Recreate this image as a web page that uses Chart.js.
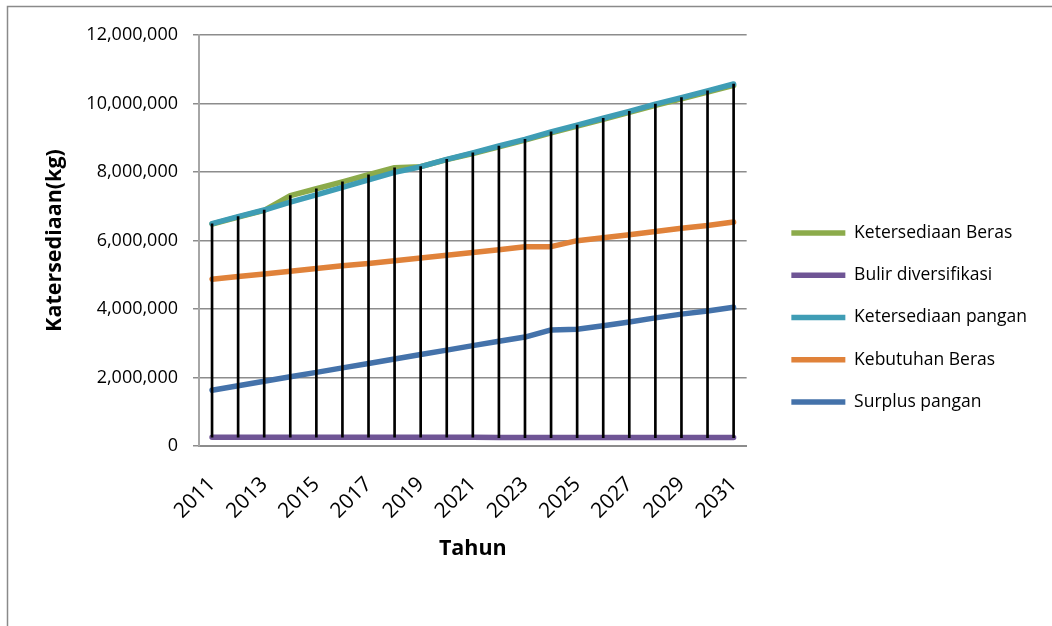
<!DOCTYPE html>
<html>
<head>
<meta charset="utf-8">
<script src="https://cdn.jsdelivr.net/npm/chart.js@4"></script>
<style>
  html, body { margin: 0; padding: 0; background: #fff; }
  #wrap { width: 1052px; height: 626px; }
</style>
</head>
<body>
<div id="wrap"><canvas id="stok-chart"></canvas></div>
<script>
const tahun = ['2011', '2012', '2013', '2014', '2015', '2016', '2017', '2018', '2019', '2020',
  '2021', '2022', '2023', '2024', '2025', '2026', '2027', '2028', '2029', '2030', '2031'];

const ketersediaanBeras = [6480000, 6685000, 6880000, 7310000, 7510000, 7710000, 7920000, 8125000,
  8155000, 8360000, 8540000, 8735000, 8930000, 9140000, 9340000, 9540000, 9740000, 9945000,
  10135000, 10335000, 10530000];
const bulirDiversifikasi = [255000, 255000, 255000, 255000, 255000, 255000, 255000, 255000,
  255000, 255000, 255000, 245000, 245000, 245000, 245000, 245000, 245000, 245000, 245000,
  245000, 245000];
const ketersediaanPangan = [6490000, 6695000, 6890000, 7120000, 7330000, 7550000, 7770000, 7990000,
  8155000, 8370000, 8560000, 8760000, 8955000, 9170000, 9370000, 9570000, 9770000, 9980000,
  10170000, 10370000, 10570000];
const kebutuhanBeras = [4870000, 4950000, 5020000, 5100000, 5180000, 5260000, 5330000, 5410000,
  5490000, 5570000, 5650000, 5730000, 5820000, 5820000, 5995000, 6080000, 6170000, 6260000,
  6360000, 6440000, 6540000];
const surplusPangan = [1630000, 1760000, 1890000, 2020000, 2150000, 2280000, 2410000, 2540000,
  2670000, 2800000, 2930000, 3060000, 3180000, 3390000, 3410000, 3510000, 3620000, 3740000,
  3850000, 3940000, 4050000];

const yTicks = [0, 2000000, 4000000, 6000000, 8000000, 10000000, 12000000];

const semuaSeri = [ketersediaanBeras, bulirDiversifikasi, ketersediaanPangan, kebutuhanBeras, surplusPangan];

// garis hitam tinggi-rendah: dari nilai terkecil ke terbesar tiap tahun
const garisHL = tahun.map((t, i) => {
  const v = semuaSeri.map(s => s[i]);
  return [Math.min(...v), Math.max(...v)];
});

function seri(label, data, warna, urutan) {
  return {
    type: 'line',
    label: label,
    data: data,
    borderColor: warna,
    backgroundColor: warna,
    borderWidth: 5.5,
    borderCapStyle: 'round',
    borderJoinStyle: 'round',
    pointRadius: 0,
    pointHoverRadius: 0,
    tension: 0,
    order: urutan
  };
}

// bingkai abu-abu di tepi kiri dan atas
const bingkai = {
  id: 'bingkai',
  beforeDraw(chart) {
    const c = chart.ctx;
    c.save();
    c.strokeStyle = '#8a8a8a';
    c.lineWidth = 1.5;
    c.strokeRect(7.5, 6.5, 1200, 800);
    c.restore();
  }
};

Chart.defaults.font.family = "'Open Sans', sans-serif";
Chart.defaults.color = '#000';

const ctx = document.getElementById('stok-chart').getContext('2d');
const data = {
  labels: tahun,
  datasets: [
    seri('Ketersediaan Beras', ketersediaanBeras, '#8cab4b', 2),
    seri('Bulir diversifikasi', bulirDiversifikasi, '#6f5595', 1),
    seri('Ketersediaan pangan', ketersediaanPangan, '#3f9db5', 1),
    seri('Kebutuhan Beras', kebutuhanBeras, '#e0823a', 1),
    seri('Surplus pangan', surplusPangan, '#4472aa', 1),
    {
      type: 'bar',
      label: 'hl',
      data: garisHL,
      backgroundColor: '#000',
      barThickness: 2,
      order: 0
    }
  ]
};

const config = {
  data: data,
  plugins: [bingkai],
  options: {
    responsive: true,
    maintainAspectRatio: false,
    animation: false,
    layout: { padding: { top: 35, left: 30, right: 15, bottom: 26 } },
    plugins: {
      tooltip: { enabled: false },
      legend: {
        position: 'right',
        maxWidth: 320,
        labels: {
          usePointStyle: true,
          pointStyle: 'line',
          pointStyleWidth: 54,
          boxHeight: 5,
          padding: 24.7,
          font: { size: 17.5 },
          filter: item => item.datasetIndex < 5,
          sort: (a, b) => a.datasetIndex - b.datasetIndex
        }
      }
    },
    scales: {
      x: {
        offset: true,
        grid: { display: false, drawTicks: false },
        border: { display: true, color: '#8c8c8c', width: 2 },
        ticks: {
          autoSkip: false,
          minRotation: 45,
          maxRotation: 45,
          padding: 26,
          font: { size: 21 },
          callback: function (value, index) {
            return index % 2 === 0 ? this.getLabelForValue(value) : '';
          }
        },
        title: {
          display: true,
          text: 'Tahun',
          font: { size: 21.5, weight: 'bold' },
          padding: { top: 4, bottom: 38 }
        },
        afterFit(s) { s.height = 600 - 446; }
      },
      y: {
        min: 0,
        max: 12000000,
        afterBuildTicks(s) { s.ticks = yTicks.map(v => ({ value: v })); },
        grid: { color: '#8c8c8c', lineWidth: 1.5, tickLength: 6 },
        border: { display: true, color: '#a6a6a6', width: 2 },
        ticks: {
          padding: 15,
          font: { size: 18 },
          callback: value => value.toLocaleString('en-US')
        },
        title: {
          display: true,
          text: 'Katersediaan(kg)',
          font: { size: 21.5, weight: 'bold' },
          padding: { top: 12, bottom: 0 }
        },
        afterFit(s) { s.width = 199 - 30; }
      },
      celah: {
        position: 'right',
        display: true,
        grid: { display: false },
        border: { display: false },
        ticks: { display: false },
        afterFit(s) { s.width = 20; }
      }
    }
  }
};

const stokChart = new Chart(ctx, config);
</script>
</body>
</html>
